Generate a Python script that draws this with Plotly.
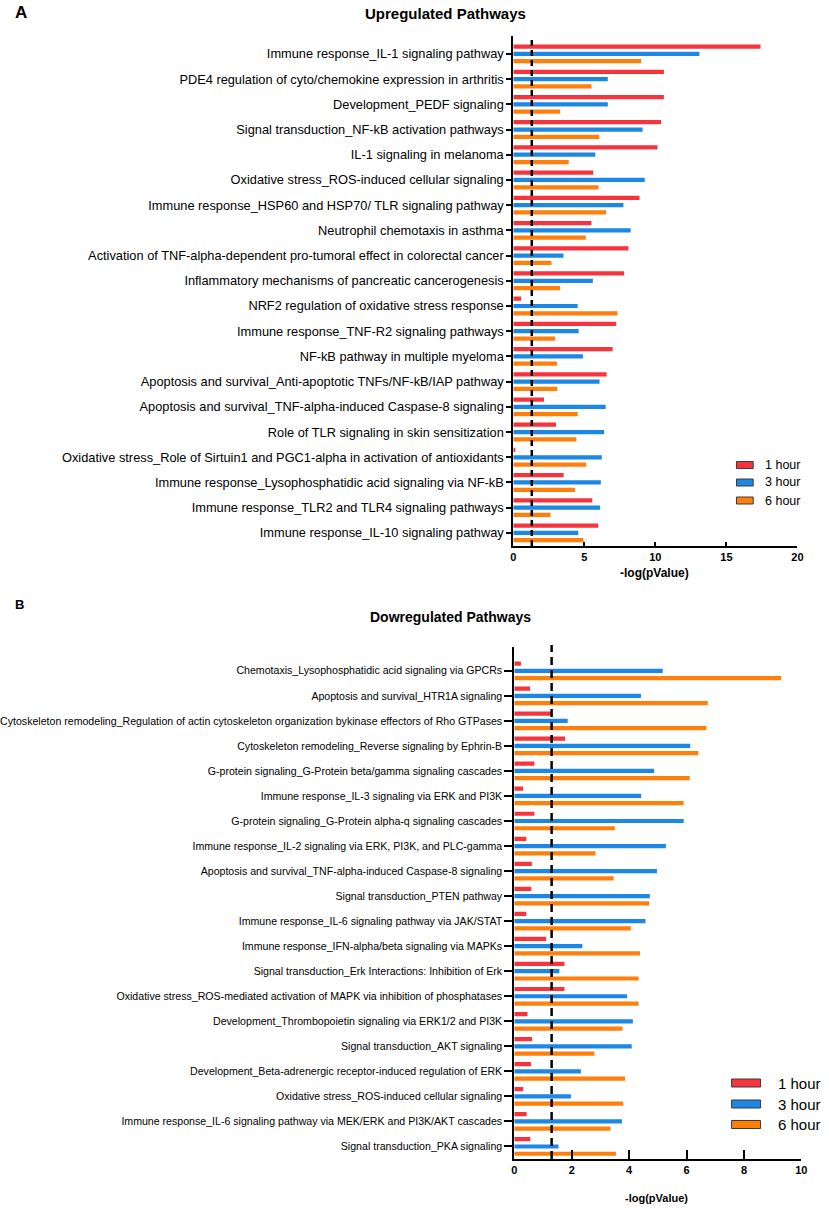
import plotly.graph_objects as go

W, H = 829, 1209

# ---------------- data ----------------
up_pathways = [
    "Immune response_IL-1 signaling pathway",
    "PDE4 regulation of cyto/chemokine expression in arthritis",
    "Development_PEDF signaling",
    "Signal transduction_NF-kB activation pathways",
    "IL-1 signaling in melanoma",
    "Oxidative stress_ROS-induced cellular signaling",
    "Immune response_HSP60 and HSP70/ TLR signaling pathway",
    "Neutrophil chemotaxis in asthma",
    "Activation of TNF-alpha-dependent pro-tumoral effect in colorectal cancer",
    "Inflammatory mechanisms of pancreatic cancerogenesis",
    "NRF2 regulation of oxidative stress response",
    "Immune response_TNF-R2 signaling pathways",
    "NF-kB pathway in multiple myeloma",
    "Apoptosis and survival_Anti-apoptotic TNFs/NF-kB/IAP pathway",
    "Apoptosis and survival_TNF-alpha-induced Caspase-8 signaling",
    "Role of TLR signaling in skin sensitization",
    "Oxidative stress_Role of Sirtuin1 and PGC1-alpha in activation of antioxidants",
    "Immune response_Lysophosphatidic acid signaling via NF-kB",
    "Immune response_TLR2 and TLR4 signaling pathways",
    "Immune response_IL-10 signaling pathway",
]
up_1h = [17.4, 10.6, 10.6, 10.4, 10.15, 5.63, 8.88, 5.5, 8.1, 7.8,
         0.55, 7.24, 6.99, 6.57, 2.16, 3.01, 0.14, 3.54, 5.56, 5.98]
up_3h = [13.1, 6.65, 6.65, 9.1, 5.77, 9.25, 7.75, 8.26, 3.53, 5.6,
         4.53, 4.6, 4.9, 6.07, 6.5, 6.39, 6.23, 6.16, 6.11, 4.57]
up_6h = [9.0, 5.5, 3.3, 6.05, 3.9, 6.0, 6.53, 5.1, 2.68, 3.3,
         7.33, 2.94, 3.08, 3.1, 4.53, 4.44, 5.13, 4.34, 2.62, 4.94]

down_pathways = [
    "Chemotaxis_Lysophosphatidic acid signaling via GPCRs",
    "Apoptosis and survival_HTR1A signaling",
    "Cytoskeleton remodeling_Regulation of actin cytoskeleton organization bykinase effectors of Rho GTPases",
    "Cytoskeleton remodeling_Reverse signaling by Ephrin-B",
    "G-protein signaling_G-Protein beta/gamma signaling cascades",
    "Immune response_IL-3 signaling via ERK and PI3K",
    "G-protein signaling_G-Protein alpha-q signaling cascades",
    "Immune response_IL-2 signaling via ERK, PI3K, and PLC-gamma",
    "Apoptosis and survival_TNF-alpha-induced Caspase-8 signaling",
    "Signal transduction_PTEN pathway",
    "Immune response_IL-6 signaling pathway via JAK/STAT",
    "Immune response_IFN-alpha/beta signaling via MAPKs",
    "Signal transduction_Erk Interactions: Inhibition of Erk",
    "Oxidative stress_ROS-mediated activation of MAPK via inhibition of phosphatases",
    "Development_Thrombopoietin signaling via ERK1/2 and PI3K",
    "Signal transduction_AKT signaling",
    "Development_Beta-adrenergic receptor-induced regulation of ERK",
    "Oxidative stress_ROS-induced cellular signaling",
    "Immune response_IL-6 signaling pathway via MEK/ERK and PI3K/AKT cascades",
    "Signal transduction_PKA signaling",
]
down_1h = [0.23, 0.55, 1.29, 1.77, 0.7, 0.31, 0.7, 0.42, 0.61, 0.59,
           0.42, 1.11, 1.75, 1.75, 0.46, 0.62, 0.58, 0.31, 0.43, 0.56]
down_3h = [5.17, 4.41, 1.86, 6.13, 4.87, 4.42, 5.9, 5.28, 4.97, 4.72,
           4.57, 2.37, 1.57, 3.93, 4.13, 4.09, 2.32, 1.97, 3.75, 1.54]
down_6h = [9.3, 6.74, 6.69, 6.41, 6.11, 5.9, 3.5, 2.83, 3.46, 4.7,
           4.06, 4.38, 4.33, 4.33, 3.77, 2.79, 3.86, 3.79, 3.35, 3.54]

series_names = ["1 hour", "3 hour", "6 hour"]
threshold = 1.3  # -log10(0.05)

# ---------------- styles ----------------
colors = ["#F5343E", "#1C87E5", "#FF7F0D"]
edge = "#3a3a3a"
FONT = "Liberation Sans, Arial, sans-serif"


def px(x):
    return x / W


def py(y):
    return 1 - y / H


fig = go.Figure()

for vals, name, col in zip([up_1h, up_3h, up_6h], series_names, colors):
    fig.add_trace(go.Bar(y=up_pathways, x=vals, name=name, orientation="h",
                         marker=dict(color=col, line=dict(width=0)),
                         xaxis="x", yaxis="y", showlegend=False))
for vals, name, col in zip([down_1h, down_3h, down_6h], series_names, colors):
    fig.add_trace(go.Bar(y=down_pathways, x=vals, name=name, orientation="h",
                         marker=dict(color=col, line=dict(width=0)),
                         xaxis="x2", yaxis="y2", showlegend=False))

axis_common = dict(showgrid=False, zeroline=False, showline=True,
                   linecolor="black", linewidth=2, ticks="inside",
                   tickcolor="black", tickwidth=2)

fig.update_layout(
    width=W, height=H,
    margin=dict(l=0, r=0, t=0, b=0),
    paper_bgcolor="white", plot_bgcolor="white",
    barmode="group", bargap=0.13, bargroupgap=0.42,
    font=dict(family=FONT, color="black"),
    xaxis=dict(domain=[px(514), px(803)], range=[0, 20], tickvals=[0, 5, 10, 15, 20],
               ticklen=4, anchor="y",
               tickfont=dict(size=11, family=FONT, weight="bold"), **axis_common),
    yaxis=dict(domain=[py(546), py(36)], type="category",
               categoryorder="array", categoryarray=up_pathways,
               range=[19.52, -0.71], anchor="x",
               showgrid=False, zeroline=False, showline=True, linecolor="black",
               linewidth=2, ticks="outside", ticklen=5, tickwidth=1.5, tickcolor="black",
               tickfont=dict(size=12.8, family=FONT)),
    xaxis2=dict(domain=[px(515), px(807)], range=[0, 10], tickvals=[0, 2, 4, 6, 8, 10],
                ticklen=9, anchor="y2",
                tickfont=dict(size=11, family=FONT, weight="bold"), **axis_common),
    yaxis2=dict(domain=[py(1159), py(647)], type="category",
                categoryorder="array", categoryarray=down_pathways,
                range=[19.5, -0.95], anchor="x2",
                showgrid=False, zeroline=False, showline=True, linecolor="black",
                linewidth=2, ticks="outside", ticklen=8, tickwidth=1.5, tickcolor="black",
                tickfont=dict(size=10.6, family=FONT)),
)

# threshold dashed lines
fig.add_shape(type="line", xref="x", yref="y domain", x0=threshold, x1=threshold,
              y0=0, y1=1, line=dict(color="black", width=2.5, dash="6px,4px"))
fig.add_shape(type="line", xref="x2", yref="y2 domain", x0=threshold, x1=threshold,
              y0=0, y1=1.004, line=dict(color="black", width=2.5, dash="8px,5px"))

# titles / labels
ann = []
ann.append(dict(text="<b>A</b>", x=px(5), y=py(13), xanchor="left", yanchor="middle",
                font=dict(size=17)))
ann.append(dict(text="<b>B</b>", x=px(5), y=py(604), xanchor="left", yanchor="middle",
                font=dict(size=13)))
ann.append(dict(text="<b>Upregulated Pathways</b>", x=px(445.5), y=py(14),
                xanchor="center", yanchor="middle", font=dict(size=15)))
ann.append(dict(text="<b>Dowregulated Pathways</b>", x=px(450), y=py(617),
                xanchor="center", yanchor="middle", font=dict(size=14)))
ann.append(dict(text="<b>-log(pValue)</b>", x=px(658), y=py(573),
                xanchor="center", yanchor="middle", font=dict(size=12)))
ann.append(dict(text="<b>-log(pValue)</b>", x=px(660), y=py(1198),
                xanchor="center", yanchor="middle", font=dict(size=11)))

# legends (drawn as swatches + text)
shapes = []
top_leg_y = [465, 482.5, 500.5]
for yy, name, col in zip(top_leg_y, series_names, colors):
    shapes.append(dict(type="rect", xref="paper", yref="paper",
                       x0=px(741), x1=px(758), y0=py(yy + 3.5), y1=py(yy - 3.5),
                       fillcolor=col, line=dict(color=edge, width=1)))
    ann.append(dict(text=name, x=px(768), y=py(yy), xanchor="left", yanchor="middle",
                    font=dict(size=12.5)))
bot_leg_y = [1083, 1104, 1124.5]
for yy, name, col in zip(bot_leg_y, series_names, colors):
    shapes.append(dict(type="rect", xref="paper", yref="paper",
                       x0=px(736), x1=px(765.5), y0=py(yy + 4), y1=py(yy - 4),
                       fillcolor=col, line=dict(color=edge, width=1)))
    ann.append(dict(text=name, x=px(781), y=py(yy), xanchor="left", yanchor="middle",
                    font=dict(size=15)))

for a in ann:
    a.update(xref="paper", yref="paper", showarrow=False)
    a["font"] = dict(family=FONT, color="black", **a["font"])
    fig.add_annotation(**a)
for s in shapes:
    fig.add_shape(**s)

fig.write_html("out.html",
               config={"displayModeBar": False},
               post_script="document.body.style.margin='0px';"
                           "document.body.style.overflow='hidden';")
